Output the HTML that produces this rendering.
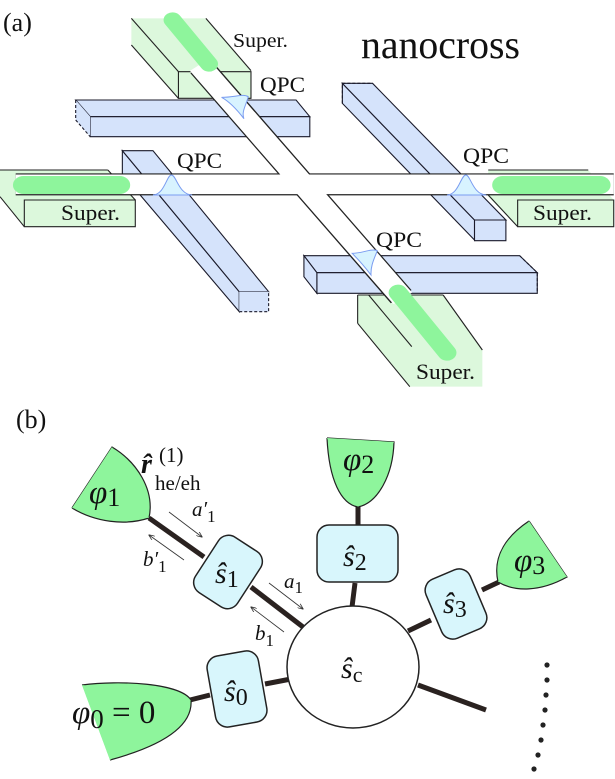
<!DOCTYPE html>
<html><head><meta charset="utf-8"><style>
html,body{margin:0;padding:0;background:#fff;overflow:hidden;}
svg{display:block;font-family:"Liberation Serif",serif;}
</style></head><body>
<svg width="615" height="779" viewBox="0 0 615 779" xmlns="http://www.w3.org/2000/svg">
<g transform="scale(0.39216,0.33333)">
  <g fill="#dcf8dc" stroke="#222" stroke-width="1.1" vector-effect="non-scaling-stroke">
    <polygon points="335,55 525,55 640,212 640,295 455,295 335,135" stroke="none"/>
    <line x1="335" y1="55" x2="455" y2="215" vector-effect="non-scaling-stroke"/>
    <line x1="525" y1="55" x2="640" y2="212" vector-effect="non-scaling-stroke"/>
    <line x1="335" y1="135" x2="455" y2="295" vector-effect="non-scaling-stroke"/>
    <rect x="455" y="215" width="185" height="80" vector-effect="non-scaling-stroke"/>

    <polygon points="0,510 275,510 345,600 345,680 62,680 0,590" stroke="none"/>
    <line x1="0" y1="510" x2="275" y2="510" vector-effect="non-scaling-stroke"/>
    <line x1="275" y1="510" x2="345" y2="600" vector-effect="non-scaling-stroke"/>
    <line x1="0" y1="590" x2="62" y2="680" vector-effect="non-scaling-stroke"/>
    <rect x="62" y="600" width="283" height="80" vector-effect="non-scaling-stroke"/>

    <polygon points="1245,510 1500,510 1565,600 1565,680 1320,680 1245,590" stroke="none"/>
    <line x1="1245" y1="510" x2="1500" y2="510" vector-effect="non-scaling-stroke"/>
    <line x1="1245" y1="585" x2="1320" y2="680" vector-effect="non-scaling-stroke"/>
    <rect x="1320" y="600" width="245" height="80" vector-effect="non-scaling-stroke"/>

    <polygon points="912,885 1130,885 1230,1050 1230,1160 1045,1160 912,970" stroke="none"/>
    <line x1="912" y1="885" x2="1130" y2="885" vector-effect="non-scaling-stroke"/>
    <line x1="912" y1="885" x2="912" y2="970" vector-effect="non-scaling-stroke"/>
    <line x1="912" y1="970" x2="1045" y2="1160" vector-effect="non-scaling-stroke"/>
    <line x1="940" y1="885" x2="1050" y2="1040" vector-effect="non-scaling-stroke"/>
    <line x1="1130" y1="885" x2="1230" y2="1050" vector-effect="non-scaling-stroke"/>
  </g>
  <g fill="#d5e3fb" stroke="#1a1a2a" stroke-width="1.1">
    <polygon points="193,300 755,300 790,350 230,350" vector-effect="non-scaling-stroke"/>
    <rect x="230" y="350" width="560" height="60" vector-effect="non-scaling-stroke"/>
    <polygon points="193,300 230,350 230,410 193,360" stroke="none"/>
    <path d="M193,300 V360 L230,410" fill="none" stroke-dasharray="3,2" vector-effect="non-scaling-stroke"/>

    <polygon points="873,250 873,310 1210,720 1210,660" vector-effect="non-scaling-stroke"/>
    <polygon points="873,250 950,250 1290,660 1210,660" vector-effect="non-scaling-stroke"/>
    <rect x="1210" y="660" width="80" height="62" vector-effect="non-scaling-stroke"/>
    <path d="M873,310 V250 H950" fill="none" stroke-dasharray="3,2" vector-effect="non-scaling-stroke"/>

    <polygon points="312,452 312,522 610,935 610,875" vector-effect="non-scaling-stroke"/>
    <polygon points="312,452 390,452 685,875 610,875" vector-effect="non-scaling-stroke"/>
    <rect x="610" y="875" width="75" height="60" stroke="none"/>
    <path d="M610,935 H685 V875" fill="none" stroke-dasharray="3,2" vector-effect="non-scaling-stroke"/>

    <polygon points="775,767 1325,767 1370,818 808,818" vector-effect="non-scaling-stroke"/>
    <rect x="808" y="818" width="562" height="62" vector-effect="non-scaling-stroke"/>
    <polygon points="775,767 808,818 808,880 775,830" vector-effect="non-scaling-stroke"/>
    <path d="M1325,767 L1370,818 V880" fill="none" stroke-dasharray="3,2" vector-effect="non-scaling-stroke"/>
  </g>
  <g fill="none">
    <line x1="40" y1="553" x2="1565" y2="553" stroke="#222" stroke-width="66"/>
    <line x1="512" y1="200" x2="1023" y2="890" stroke="#222" stroke-width="66"/>
    <line x1="40" y1="553" x2="1565" y2="553" stroke="#fff" stroke-width="59"/>
    <line x1="508" y1="195" x2="1027" y2="895" stroke="#fff" stroke-width="59"/>
  </g>
  <g stroke="#8ef59c" stroke-linecap="round" fill="none">
    <line x1="440" y1="60" x2="533" y2="192" stroke-width="46"/>
    <line x1="60" y1="555" x2="305" y2="555" stroke-width="54"/>
    <line x1="1282" y1="555" x2="1530" y2="555" stroke-width="54"/>
    <line x1="1015" y1="878" x2="1140" y2="1058" stroke-width="48"/>
  </g>
  <g fill="#d8f3ff" stroke="#7a9cf0" stroke-width="1">
    <path d="M390,585 C420,583 425,525 437,525 C450,525 455,583 490,585 Z" vector-effect="non-scaling-stroke"/>
    <path d="M1140,585 C1170,583 1175,525 1188,525 C1200,525 1205,583 1240,585 Z" vector-effect="non-scaling-stroke"/>
    <path d="M565,292 C600,292 620,280 633,290 C628,315 615,335 622,356 C605,330 585,305 565,292 Z" vector-effect="non-scaling-stroke"/>
    <path d="M898,760 C925,760 945,745 962,752 C955,775 945,795 946,825 C930,800 915,780 898,760 Z" vector-effect="non-scaling-stroke"/>
  </g>
</g>
<g fill="#111">
  <text x="3" y="31" font-size="26">(a)</text>
  <text x="361" y="58" font-size="40" textLength="159" lengthAdjust="spacingAndGlyphs">nanocross</text>
  <text x="233" y="47" font-size="20" textLength="55" lengthAdjust="spacingAndGlyphs">Super.</text>
  <text x="61" y="220" font-size="22" textLength="59" lengthAdjust="spacingAndGlyphs">Super.</text>
  <text x="533" y="220" font-size="22" textLength="59" lengthAdjust="spacingAndGlyphs">Super.</text>
  <text x="416" y="379" font-size="22" textLength="59" lengthAdjust="spacingAndGlyphs">Super.</text>
  <text x="260" y="92" font-size="22" textLength="45" lengthAdjust="spacingAndGlyphs">QPC</text>
  <text x="177" y="168" font-size="22" textLength="45" lengthAdjust="spacingAndGlyphs">QPC</text>
  <text x="463" y="163" font-size="22" textLength="46" lengthAdjust="spacingAndGlyphs">QPC</text>
  <text x="376" y="247" font-size="22" textLength="46" lengthAdjust="spacingAndGlyphs">QPC</text>
  <text x="16" y="428" font-size="26">(b)</text>
</g>

<g stroke="#2a2220" stroke-width="5" fill="none">
  <line x1="149" y1="518" x2="204" y2="557"/>
  <line x1="251" y1="587" x2="303" y2="627"/>
  <line x1="358" y1="505" x2="358" y2="527"/>
  <line x1="355" y1="583" x2="352" y2="607"/>
  <line x1="499" y1="582" x2="482" y2="590"/>
  <line x1="431" y1="620" x2="408" y2="631"/>
  <line x1="265" y1="684" x2="291" y2="679"/>
  <line x1="190" y1="700" x2="210" y2="695"/>
  <line x1="418" y1="685" x2="486" y2="710"/>
</g>
<g fill="#8ef59c" stroke="#222" stroke-width="1.2">
  <path d="M72,508 L112,447 C137,462 155,490 149,518 C125,526 95,522 72,508"/>
  <path d="M327,438 L394,442 C393,475 378,503 358,507 C341,504 329,480 327,438"/>
  <path d="M529,521 L567,577 C540,592 515,592 498,582 C492,555 508,535 529,521"/>
  <path d="M82,685 C120,680 180,683 191,700 C193,725 165,745 110,760"/>
</g>
<path d="M72,508 L112,447 L149,518 Z" fill="#8ef59c"/>
<path d="M327,438 L394,442 L358,507 Z" fill="#8ef59c"/>
<path d="M529,521 L567,577 L498,582 Z" fill="#8ef59c"/>
<path d="M82,685 L191,700 L110,760 Z" fill="#8ef59c"/>
<ellipse cx="353" cy="667" rx="66" ry="61" fill="#fff" stroke="#222" stroke-width="1.5"/>
<g fill="#d8f6fc" stroke="#222" stroke-width="1.5">
  <rect x="-25" y="-33" width="50" height="66" rx="12" transform="translate(228,572) rotate(33)"/>
  <rect x="317" y="525" width="81" height="57" rx="12"/>
  <rect x="-24" y="-32" width="48" height="64" rx="12" transform="translate(456,604) rotate(-23)"/>
  <rect x="-26" y="-36" width="52" height="72" rx="12" transform="translate(237,689) rotate(-10)"/>
</g>
<defs><marker id="ah" markerWidth="6" markerHeight="5" refX="5.5" refY="2.5" orient="auto" markerUnits="userSpaceOnUse"><path d="M0,0 L6,2.5 L0,5" fill="none" stroke="#333" stroke-width="0.8"/></marker></defs>
<g stroke="#333" stroke-width="0.8" marker-end="url(#ah)">
  <line x1="169" y1="512" x2="202" y2="537"/>
  <line x1="184" y1="560" x2="149" y2="535"/>
  <line x1="269" y1="583" x2="303" y2="609"/>
  <line x1="284" y1="632" x2="251" y2="607"/>
</g>
<g fill="#111" font-style="italic" font-size="33">
  <text x="89" y="503">φ<tspan font-style="normal" font-size="26" dy="3">1</tspan></text>
  <text x="343" y="470">φ<tspan font-style="normal" font-size="26" dy="3">2</tspan></text>
  <text x="514" y="571">φ<tspan font-style="normal" font-size="26" dy="3">3</tspan></text>
  <text x="72" y="723" font-size="33">φ<tspan font-style="normal" font-size="27" dy="5">0</tspan><tspan font-style="normal" dy="-5"> = 0</tspan></text>
  <text x="141" y="473" font-weight="bold" font-size="28">r̂</text>
  <text x="159" y="462" font-style="normal" font-size="21">(1)</text>
  <text x="155" y="490" font-style="normal" font-size="21">he/eh</text>
  <text x="192" y="516" font-size="21">a′<tspan font-style="normal" font-size="17" dy="6">1</tspan></text>
  <text x="143" y="566" font-size="21">b′<tspan font-style="normal" font-size="17" dy="6">1</tspan></text>
  <text x="284" y="588" font-size="21">a<tspan font-style="normal" font-size="17" dy="5">1</tspan></text>
  <text x="255" y="640" font-size="21">b<tspan font-style="normal" font-size="17" dy="6">1</tspan></text>
  <text x="215" y="583" font-size="30">ŝ<tspan font-style="normal" font-size="24" dy="4">1</tspan></text>
  <text x="343" y="566" font-size="30">ŝ<tspan font-style="normal" font-size="24" dy="4">2</tspan></text>
  <text x="443" y="613" font-size="30">ŝ<tspan font-style="normal" font-size="24" dy="4">3</tspan></text>
  <text x="224" y="701" font-size="30">ŝ<tspan font-style="normal" font-size="24" dy="4">0</tspan></text>
  <text x="341" y="678" font-size="30">ŝ<tspan font-style="normal" font-size="22" dy="4">c</tspan></text>
</g>
<g fill="#222">
  <circle cx="547" cy="665" r="2.6"/><circle cx="547" cy="680" r="2.6"/><circle cx="546" cy="695" r="2.6"/>
  <circle cx="545" cy="710" r="2.6"/><circle cx="543" cy="725" r="2.6"/><circle cx="541" cy="740" r="2.6"/>
  <circle cx="538" cy="755" r="2.6"/><circle cx="534" cy="769" r="2.6"/>
</g>
</svg>
</body></html>
